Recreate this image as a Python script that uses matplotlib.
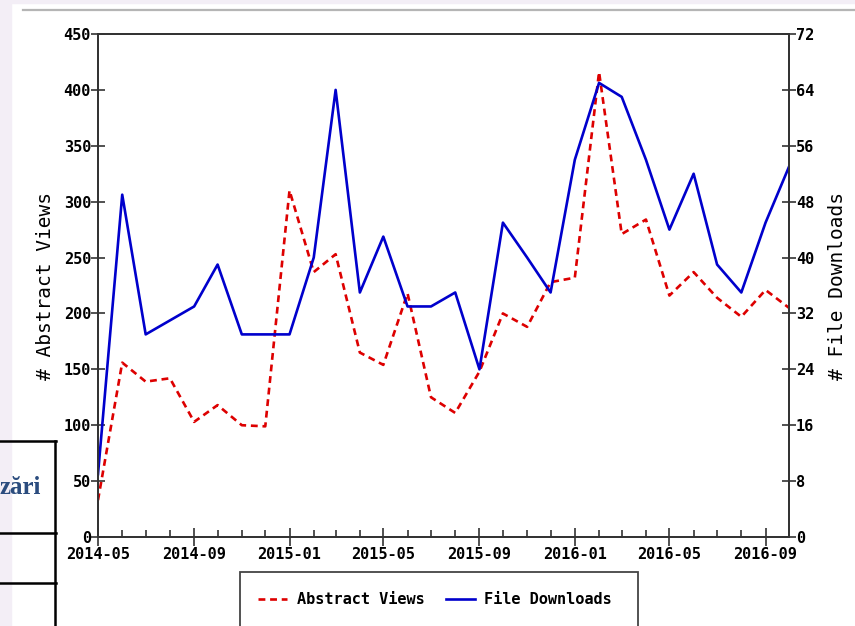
import pandas as pd
import matplotlib
matplotlib.use("Agg")
import matplotlib.pyplot as plt
import matplotlib.dates as mdates
from matplotlib.lines import Line2D
from matplotlib.patches import Rectangle

# --- Data (monthly, 2014-05 .. 2016-10) ---
months = pd.date_range("2014-05-01", periods=30, freq="MS")
abstract_views = [33, 156, 139, 142, 103, 118, 100, 99, 310, 237,
                  253, 165, 154, 218, 125, 111, 148, 200, 188, 228,
                  232, 416, 271, 284, 216, 237, 214, 197, 221, 205]
file_downloads = [9, 49, 29, 31, 33, 39, 29, 29, 29, 40,
                  64, 35, 43, 33, 33, 35, 24, 45, 40, 35,
                  54, 65, 63, 54, 44, 52, 39, 35, 45, 53]

W, H = 855, 626
RED = "#dd0000"
BLUE = "#0000cc"
MONO = "DejaVu Sans Mono"


def fx(px):
    return px / W


def fy(py):
    return 1 - py / H


fig = plt.figure(figsize=(W / 100, H / 100), dpi=100)
fig.patch.set_facecolor("white")

# page decoration around the chart (screenshot context)
fig.add_artist(Rectangle((0, 0), fx(11), 1, transform=fig.transFigure,
                         color="#f3eef6", zorder=0))
fig.add_artist(Rectangle((0, fy(3)), 1, fy(0) - fy(3), transform=fig.transFigure,
                         color="#f3eef6", zorder=0))
fig.add_artist(Line2D([fx(23), 1], [fy(10), fy(10)], transform=fig.transFigure,
                      color="#b5b5b5", linewidth=1.6))
for yy in (441, 533, 583):
    fig.add_artist(Line2D([0, fx(56)], [fy(yy), fy(yy)], transform=fig.transFigure,
                          color="black", linewidth=1.8))
fig.add_artist(Line2D([fx(55), fx(55)], [fy(441), 0], transform=fig.transFigure,
                      color="black", linewidth=1.8))
fig.text(fx(41), fy(488), "zări", ha="right", va="center", fontsize=18,
         fontweight="bold", family="Liberation Serif", color="#2b4c7e")

# --- Chart ---
ax = fig.add_axes([fx(98), fy(537), fx(789) - fx(98), fy(34) - fy(537)])
ax2 = ax.twinx()

ax.plot(months, abstract_views, color=RED, linewidth=1.9, dashes=(2.6, 1.8),
        label="Abstract Views", zorder=3)
ax2.plot(months, file_downloads, color=BLUE, linewidth=1.9,
         label="File Downloads", zorder=2)

ax.set_xlim(months[0], months[-1])
ax.set_ylim(0, 450)
ax.set_yticks(range(0, 451, 50))
ax2.set_ylim(0, 72)
ax2.set_yticks(range(0, 73, 8))

ax.xaxis.set_major_locator(mdates.MonthLocator(bymonth=[1, 5, 9]))
ax.xaxis.set_major_formatter(mdates.DateFormatter("%Y-%m"))
ax.xaxis.set_minor_locator(mdates.MonthLocator())

for a in (ax, ax2):
    for s in a.spines.values():
        s.set_color("#333333")
        s.set_linewidth(1.3)
    for lab in a.get_xticklabels() + a.get_yticklabels():
        lab.set_family(MONO)
        lab.set_fontweight("bold")
        lab.set_fontsize(11)

ax.tick_params(axis="y", direction="inout", length=10, width=1.2, pad=0,
               color="#333333")
ax2.tick_params(axis="y", direction="inout", length=10, width=1.2, pad=0,
                color="#333333")
ax.tick_params(axis="x", which="major", direction="inout", length=13, width=1.2,
               pad=1, color="#333333")
ax.tick_params(axis="x", which="minor", direction="in", length=5, width=1.2,
               color="#333333")

ax.set_ylabel("# Abstract Views", family=MONO, fontsize=14, labelpad=6)
ax2.set_ylabel("# File Downloads", family=MONO, fontsize=14, labelpad=10)

# legend below the plot, box runs off the bottom edge
fig.add_artist(Rectangle((fx(240), fy(660)), fx(638) - fx(240), fy(572) - fy(660),
                         transform=fig.transFigure, fill=False,
                         edgecolor="#444444", linewidth=1.3, clip_on=False))
handles = ax.get_lines() + ax2.get_lines()
fig.legend(handles, [h.get_label() for h in handles], loc="center",
           bbox_to_anchor=(fx(435), fy(600)), ncol=2, frameon=False,
           prop={"family": MONO, "weight": "bold", "size": 11},
           handlelength=1.9, handletextpad=0.6, columnspacing=1.4)

plt.savefig("out.png", dpi=100)
plt.close()
